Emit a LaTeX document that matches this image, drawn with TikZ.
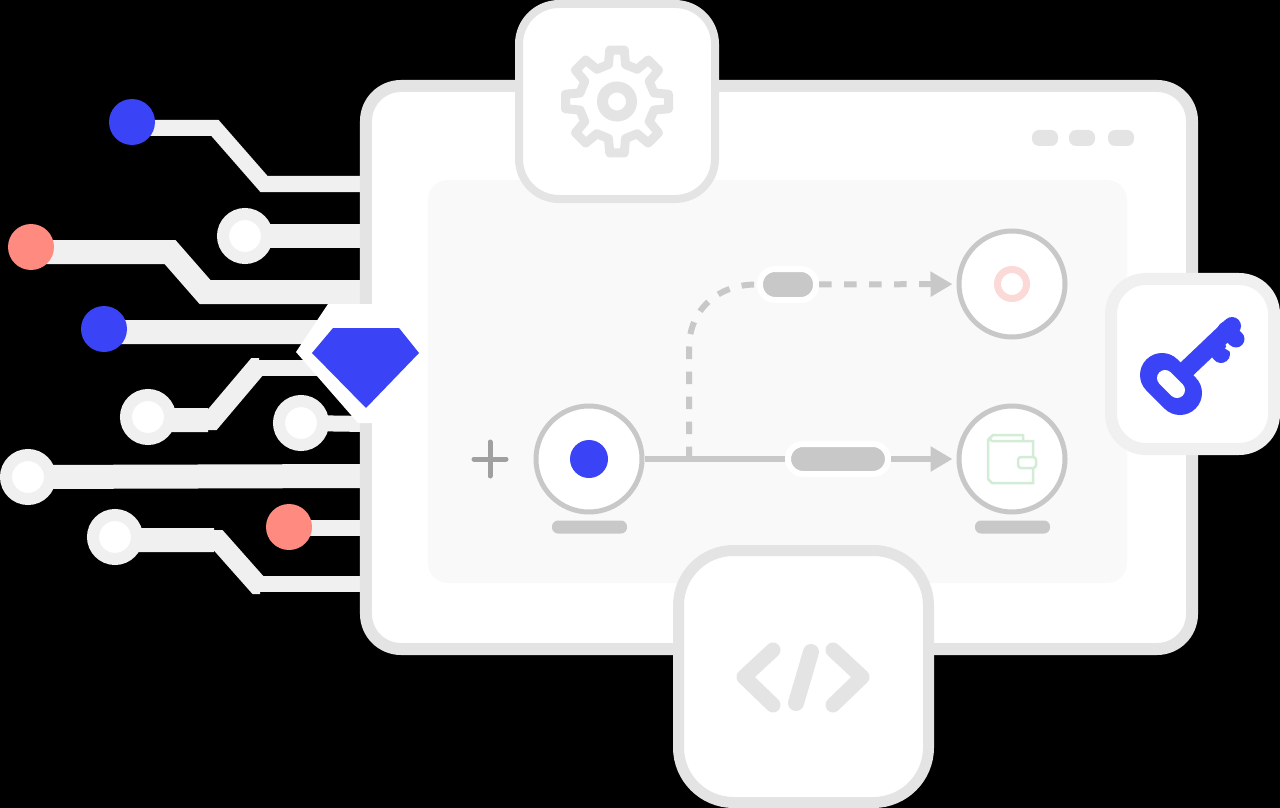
\documentclass[tikz,border=0pt]{standalone}
\usepackage{xcolor}
\usepackage{tikz}
\usetikzlibrary{arrows.meta,backgrounds}
\definecolor{blueaccent}{RGB}{58,67,245}
\definecolor{redaccent}{RGB}{255,138,128}
\definecolor{frameline}{RGB}{228,228,228}
\definecolor{wiregray}{RGB}{240,240,240}
\definecolor{panelgray}{RGB}{249,249,249}
\definecolor{flowgray}{RGB}{200,200,200}
\definecolor{plusgray}{RGB}{160,160,160}
\definecolor{walletgreen}{RGB}{211,236,214}
\definecolor{ringpink}{RGB}{251,217,214}

\begin{document}
\begin{tikzpicture}[
  x=0.2mm,y=-0.2mm,
  solid dot/.style={circle,inner sep=0pt,minimum size=9.2mm},
  halo dot/.style={circle,inner sep=0pt,minimum size=8.8mm,fill=white,draw=wiregray,line width=2.4mm},
  fatwire/.style={draw=wiregray,line width=4.8mm},
  midwire/.style={draw=wiregray,line width=4mm},
  thinwire/.style={draw=wiregray,line width=3.2mm},
  iconbox/.style={draw=frameline,fill=white,inner sep=0pt},
  flownode/.style={circle,inner sep=0pt,minimum size=21.2mm,draw=flowgray,fill=white,line width=1mm},
  flowpill/.style={inner sep=0pt,fill=flowgray,draw=white,line width=1.2mm,rounded corners=3mm},
  flowbar/.style={inner sep=0pt,fill=flowgray,rounded corners=1.2mm,minimum width=15mm,minimum height=2.6mm},
  winpill/.style={inner sep=0pt,fill=frameline,rounded corners=1.4mm,minimum width=5.2mm,minimum height=3.2mm},
  flowline/.style={draw=flowgray,line width=1.2mm},
  arr/.style={-{Triangle[length=4.4mm,width=4.8mm]},shorten >=0.8mm},
  iconline/.style={draw=frameline,line cap=round,line join=round},
]

\useasboundingbox (0,0) rectangle (1280,808);

\node[solid dot,fill=blueaccent] (dotA) at (132,122) {};
\node[halo dot] (dotB) at (245,236) {};
\node[solid dot,fill=redaccent] (dotC) at (31,247) {};
\node[solid dot,fill=blueaccent] (dotD) at (104,329) {};
\node[halo dot] (dotE) at (148,417) {};
\node[halo dot] (dotF) at (301,423) {};
\node[halo dot] (dotG) at (28,477) {};
\node[solid dot,fill=redaccent] (dotH) at (289,527) {};
\node[halo dot] (dotI) at (115,537) {};

\coordinate (endA) at (366,184);
\coordinate (endB) at (366,236);
\coordinate (endC) at (366,292);
\coordinate (endD) at (320,332);
\coordinate (endE) at (320,368);
\coordinate (endF) at (366,424);
\coordinate (endG) at (366,476);
\coordinate (endH) at (366,528);
\coordinate (endI) at (366,584);

\begin{scope}[on background layer]
\fill[black] (0,0) rectangle (1280,808);
\draw[thinwire] ([yshift=-1.2mm]dotA.center) -- (215,128) -- (264,184) -- (endA);
\draw[fatwire] (dotB.center) -- (endB);
\draw[fatwire] ([yshift=-1mm]dotC.center) -- (170,252) -- (205,292) -- (endC);
\draw[fatwire] ([yshift=-0.6mm]dotD.center) -- (endD);
\draw[fatwire] ([yshift=-0.6mm]dotE.center) -- (208,420);
\draw[midwire] (205,420) -- (212,420) -- (256,368) -- (259,368);
\draw[thinwire] (255,368) -- (endE);
\draw[thinwire] (dotF.center) -- (endF);
\draw[fatwire] (dotG.center) -- (endG);
\draw[thinwire] ([yshift=-0.2mm]dotH.center) -- (endH);
\draw[fatwire] ([yshift=-0.6mm]dotI.center) -- (214,540);
\draw[midwire] (211,540) -- (218,540) -- (257,584) -- (260,584);
\draw[thinwire] (256,584) -- (endI);
\end{scope}

\node[iconbox,line width=2.4mm,rounded corners=7mm,minimum width=165.2mm,minimum height=112.6mm] (window) at (779,367.5) {};
\node[inner sep=0pt,fill=panelgray,rounded corners=4mm,minimum width=139.8mm,minimum height=80.6mm] (panel) at (777.5,381.5) {};
\node[winpill] (winA) at (1045,138) {};
\node[winpill] (winB) at (1082,138) {};
\node[winpill] (winC) at (1121,138) {};

\fill[white] (328,304) -- (372,304) -- (372,423) -- (358,423) -- (296,352) -- cycle;
\fill[blueaccent] (333,328) -- (399,328) -- (419,353) -- (366,408) -- (312,353) -- cycle;

\node[flownode] (source) at (589,459) {};
\node[flownode] (ring) at (1012,284) {};
\node[flownode] (wallet) at (1012,459) {};
\node[flowbar] (barA) at (589.5,527) {};
\node[flowbar] (barB) at (1012.5,527) {};
\node[flowpill,minimum width=11.2mm,minimum height=6.2mm] (pillTop) at (788,284.5) {};
\node[flowpill,minimum width=20mm,minimum height=6mm] (pillMain) at (838,459) {};
\coordinate (branch) at (689,459);

\fill[blueaccent] (source.center) circle[radius=3.8mm];
\draw[plusgray,line width=1mm,line cap=round] (474,459) -- (506,459) (490,442) -- (490,476);

\draw[flowline] (source) -- (pillMain);
\draw[flowline,arr] (pillMain) -- (wallet);
\draw[flowline,dash pattern=on 2.5mm off 2.5mm] (branch) -- (689,348) .. controls (689,310) and (718,284) .. (pillTop.west);
\draw[flowline,dash pattern=on 2.5mm off 2.5mm,arr] (pillTop) -- (ring);

\draw[ringpink,line width=1.4mm] (ring.center) circle[radius=2.9mm];

\draw[walletgreen,line width=0.5mm] (1023,441) -- (1023,435) -- (993,435) -- (988,440) -- (988,479) -- (992,483) -- (1033,483) -- (1033,441) -- (992,441) -- (988,438);
\draw[walletgreen,fill=white,line width=0.5mm,rounded corners=0.6mm] (1018,457) rectangle (1036,468);

\node[iconbox,line width=1.6mm,rounded corners=8mm,minimum width=39.2mm,minimum height=39mm] (gearbox) at (617,101.5) {};
\begin{scope}[shift={(gearbox.center)}]
\draw[iconline,line width=1.8mm] (-13:38)
  \foreach \a in {0,45,...,315} { -- (\a-13:38) -- (\a-8:52) -- (\a+8:52) -- (\a+13:38) } -- cycle;
\draw[frameline,line width=2.2mm] (0,0) circle[radius=2.9mm];
\end{scope}

\node[iconbox,draw=wiregray,line width=2.4mm,rounded corners=7mm,minimum width=32.6mm,minimum height=34mm] (keybox) at (1192.5,364) {};
\begin{scope}[blueaccent,line cap=round]
\draw[line width=3.6mm] (1171,384) -- (1232,326);
\draw[line width=3.4mm] (1226,330) -- (1236,339);
\draw[line width=3.6mm] (1213,344) -- (1221,354);
\draw[white,line width=0.7mm,line cap=butt] (1226,347) -- (1234,352);
\draw[line width=8.8mm] (1162,375) -- (1180,393);
\draw[white,line width=3.2mm] (1165,378) -- (1177,390);
\end{scope}

\node[iconbox,line width=2.2mm,rounded corners=11mm,minimum width=50mm,minimum height=50.4mm] (codebox) at (803.5,676.5) {};
\draw[iconline,line width=3mm] (773,650) -- (744,677) -- (773,705);
\draw[iconline,line width=3.2mm] (811,652) -- (796,703);
\draw[iconline,line width=3mm] (833,650) -- (862,677) -- (833,705);

\end{tikzpicture}
\end{document}
